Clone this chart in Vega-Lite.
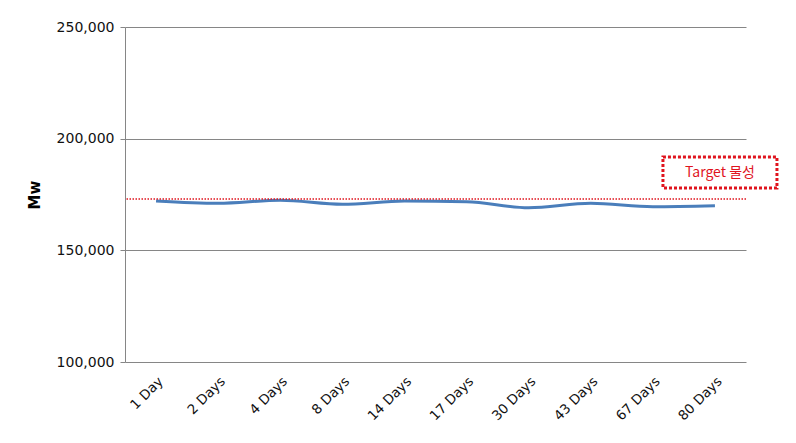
{
  "$schema": "https://vega.github.io/schema/vega-lite/v6.json",
  "autosize": {"type": "none"},
  "width": 621,
  "height": 335,
  "padding": {"left": 125, "top": 27, "right": 50, "bottom": 81},
  "background": "white",
  "config": {
    "view": {"stroke": null},
    "font": "DejaVu Sans"
  },
  "datasets": {
    "series": [
      {"time": "1 Day", "mw": 172090},
      {"time": "2 Days", "mw": 171060},
      {"time": "4 Days", "mw": 172400},
      {"time": "8 Days", "mw": 170610},
      {"time": "14 Days", "mw": 172090},
      {"time": "17 Days", "mw": 171780},
      {"time": "30 Days", "mw": 169090},
      {"time": "43 Days", "mw": 171060},
      {"time": "67 Days", "mw": 169540},
      {"time": "80 Days", "mw": 169990}
    ],
    "target": [{"mw": 173000}],
    "note": [{"time": "80 Days", "label": "Target 물성", "ytop": 191800, "ybot": 177900, "ymid": 184850}]
  },
  "layer": [
    {
      "data": {"name": "series"},
      "mark": {"type": "line", "color": "#4A7EBB", "strokeWidth": 3, "interpolate": "monotone"},
      "encoding": {
        "x": {
          "field": "time", "type": "nominal", "sort": null,
          "scale": {"paddingInner": 0, "paddingOuter": 0},
          "axis": {
            "title": null, "labelAngle": -45, "labelFontSize": 13.5, "labelColor": "#111",
            "ticks": false, "domain": false, "labelPadding": 12, "labelFont": "DejaVu Sans"
          }
        },
        "y": {
          "field": "mw", "type": "quantitative",
          "scale": {"domain": [100000, 250000], "nice": false, "zero": false},
          "axis": {
            "title": "Mw", "titleFontSize": 15, "titleFontWeight": "bold", "titleColor": "#000",
            "titleFont": "DejaVu Sans", "titlePadding": 14,
            "values": [100000, 150000, 200000, 250000], "format": ",d",
            "labelFontSize": 14, "labelColor": "#111", "labelPadding": 6, "labelFont": "DejaVu Sans",
            "grid": true, "gridColor": "#868686", "gridWidth": 1,
            "domain": true, "domainColor": "#868686",
            "ticks": true, "tickSize": 5, "tickColor": "#868686"
          }
        }
      }
    },
    {
      "data": {"name": "target"},
      "mark": {"type": "rule", "color": "#e0141e", "strokeWidth": 1.5, "strokeDash": [1.5, 1.5]},
      "encoding": {
        "y": {"field": "mw", "type": "quantitative"}
      }
    },
    {
      "data": {"name": "note"},
      "mark": {"type": "rect", "width": 114, "xOffset": 5, "fill": "white", "stroke": "#e0141e", "strokeWidth": 3, "strokeDash": [3, 2]},
      "encoding": {
        "x": {"field": "time", "type": "nominal", "sort": null},
        "y": {"field": "ytop", "type": "quantitative"},
        "y2": {"field": "ybot"}
      }
    },
    {
      "data": {"name": "note"},
      "mark": {"type": "text", "color": "#e0141e", "fontSize": 14, "dx": 5, "align": "center", "baseline": "middle", "font": "Noto Sans CJK KR"},
      "encoding": {
        "x": {"field": "time", "type": "nominal", "sort": null},
        "y": {"field": "ymid", "type": "quantitative"},
        "text": {"field": "label"}
      }
    }
  ]
}
